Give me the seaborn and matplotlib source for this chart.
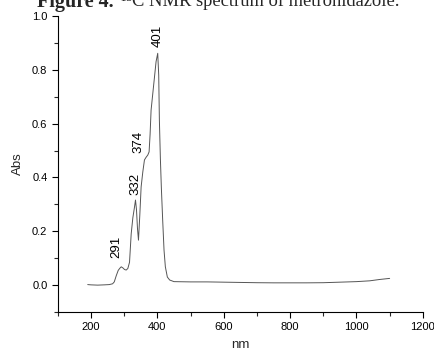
import matplotlib
matplotlib.use("Agg")
import matplotlib.pyplot as plt
import seaborn as sns
import pandas as pd
from matplotlib.ticker import MultipleLocator

# Data
wavelength = [190, 200, 220, 240, 255, 265, 270, 276, 282, 287, 291, 296, 301, 306,
              311, 316, 321, 326, 331, 334, 337, 340, 343, 347, 351, 356, 361, 366,
              371, 375, 378, 381, 386, 391, 396, 401, 404, 406, 409, 412, 416, 420,
              424, 430, 437, 450, 500, 550, 600, 650, 700, 750, 800, 850, 900, 950,
              1000, 1040, 1070, 1100]
absorbance = [0.002, 0.001, 0.000, 0.001, 0.002, 0.005, 0.012, 0.035, 0.055, 0.063, 0.068, 0.064, 0.058, 0.056,
              0.062, 0.085, 0.19, 0.25, 0.29, 0.316, 0.28, 0.21, 0.167, 0.26, 0.365, 0.42, 0.465, 0.475,
              0.483, 0.495, 0.56, 0.65, 0.71, 0.77, 0.83, 0.861, 0.78, 0.613, 0.47, 0.36, 0.24, 0.13,
              0.068, 0.03, 0.019, 0.013, 0.012, 0.012, 0.011, 0.010, 0.009, 0.0085, 0.0085, 0.0085, 0.009, 0.011,
              0.013, 0.016, 0.021, 0.025]

peak_labels = ["291", "332", "374", "401"]
peak_label_x = [277, 334, 343, 400]
peak_label_y = [0.10, 0.335, 0.49, 0.885]

x_ticks = [200, 400, 600, 800, 1000, 1200]
y_ticks = [0.0, 0.2, 0.4, 0.6, 0.8, 1.0]

df = pd.DataFrame({"nm": wavelength, "Abs": absorbance})

sns.set_style("ticks")
plt.rcParams["font.family"] = ["Liberation Sans", "DejaVu Sans"]
SANS = "Liberation Sans"

fig = plt.figure(figsize=(4.35, 3.53), dpi=100)
ax = fig.add_axes([0.133, 0.116, 0.839, 0.839])

sns.lineplot(data=df, x="nm", y="Abs", ax=ax, color="#555555", linewidth=0.7,
             estimator=None, sort=False)

for lab, px, py in zip(peak_labels, peak_label_x, peak_label_y):
    ax.text(px, py, lab, rotation=90, ha="center", va="bottom", fontsize=9.5,
            color="black", family=SANS)

ax.set_xlim(100, 1200)
ax.set_ylim(-0.1, 1.0)
ax.set_xticks(x_ticks)
ax.set_xticklabels([str(v) for v in x_ticks], family=SANS)
ax.set_yticks(y_ticks)
ax.set_yticklabels([f"{v:.1f}" for v in y_ticks], family=SANS)
ax.xaxis.set_minor_locator(MultipleLocator(100))
ax.yaxis.set_minor_locator(MultipleLocator(0.1))
ax.tick_params(which="major", direction="out", length=4, width=0.8, labelsize=8, colors="black")
ax.tick_params(which="minor", direction="out", length=3, width=0.8)
ax.set_xlabel("nm", fontsize=9.5, labelpad=5, family=SANS)
ax.set_ylabel("Abs", fontsize=9.5, labelpad=6, family=SANS)
for s in ["top", "right"]:
    ax.spines[s].set_visible(False)
for s in ["left", "bottom"]:
    ax.spines[s].set_linewidth(0.8)
    ax.spines[s].set_color("black")

# Partially cropped caption at the top
base_y = 1 - 6.5 / 353
fig.text(37 / 435, base_y, "Figure 4.", fontsize=14.5, fontweight="bold",
         family="Liberation Serif", va="baseline", ha="left")
fig.text(121 / 435, base_y, "\u00b9\u00b3C NMR spectrum of metronidazole.", fontsize=13.3,
         family="Liberation Serif", va="baseline", ha="left")

fig.savefig("out.png", dpi=100)
